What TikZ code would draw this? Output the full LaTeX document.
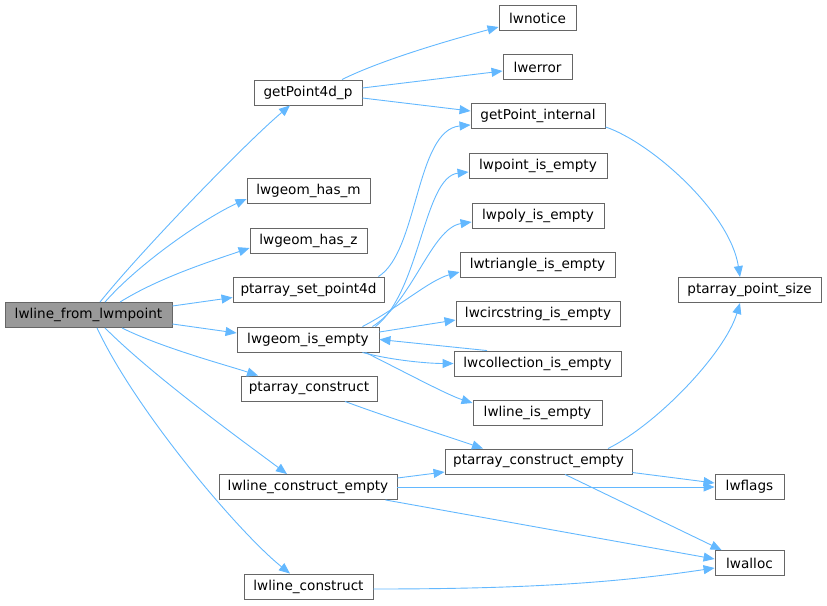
\documentclass[tikz,border=0pt]{standalone}
\usepackage{fontspec}
\setmainfont{DejaVu Sans}
\usetikzlibrary{arrows.meta}
\definecolor{callblue}{HTML}{63B8FF}
\definecolor{boxgray}{HTML}{666666}
\definecolor{rootgray}{HTML}{999999}
\tikzset{
  fn/.style = {rectangle, draw=boxgray, fill=white, line width=0.9pt,
    minimum height=25pt, minimum width=#1, inner sep=0pt,
    font=\fontsize{13.6}{15}\selectfont},% one function box
  fnroot/.style = {fn=#1, fill=rootgray},% the function drawn for
  call/.style = {draw=callblue, line width=0.9pt,
    -{Triangle[length=11pt,width=9pt]}}% one call
}

\begin{document}
\begin{tikzpicture}[x=1pt, y=-1pt]
  \useasboundingbox (0,0) rectangle (827,605);

  % caller
  \node[fnroot=167pt] (from) at (88.5,315) {lwline\_from\_lwmpoint};

  % second column
  \node[fn=108pt] (getpt4d) at (308,92.5) {getPoint4d\_p};
  \node[fn=123pt] (hasm) at (308.5,191) {lwgeom\_has\_m};
  \node[fn=117pt] (hasz) at (308.5,240.5) {lwgeom\_has\_z};
  \node[fn=151pt] (setpt4d) at (308.5,289.5) {ptarray\_set\_point4d};
  \node[fn=142pt] (geomempty) at (308,339.5) {lwgeom\_is\_empty};
  \node[fn=136pt] (pacons) at (309,388.5) {ptarray\_construct};
  \node[fn=178pt] (lconsempty) at (308,487) {lwline\_construct\_empty};
  \node[fn=129pt] (lcons) at (308.5,586.5) {lwline\_construct};

  % third column
  \node[fn=77pt] (notice) at (537.5,18) {lwnotice};
  \node[fn=69pt] (error) at (537.5,67) {lwerror};
  \node[fn=134pt] (getptint) at (538,116) {getPoint\_internal};
  \node[fn=138pt] (ptempty) at (538,166) {lwpoint\_is\_empty};
  \node[fn=132pt] (polyempty) at (538,215.5) {lwpoly\_is\_empty};
  \node[fn=155pt] (trempty) at (537.5,264.5) {lwtriangle\_is\_empty};
  \node[fn=164pt] (circempty) at (538,314) {lwcircstring\_is\_empty};
  \node[fn=167pt] (collempty) at (537.5,363.5) {lwcollection\_is\_empty};
  \node[fn=129pt] (lineempty) at (537.5,412.5) {lwline\_is\_empty};
  \node[fn=187pt] (pacempty) at (538.5,461.5) {ptarray\_construct\_empty};

  % last column
  \node[fn=143pt] (ptsize) at (749.5,290) {ptarray\_point\_size};
  \node[fn=69pt] (flags) at (749.5,487) {lwflags};
  \node[fn=69pt] (alloc) at (749.5,563) {lwalloc};

  % calls of lwline_from_lwmpoint
  \draw[call] ([xshift=11.5pt]from.north) .. controls +(40,-50) and +(-45,38) .. ([xshift=-18pt]getpt4d.south);
  \draw[call] ([xshift=16.5pt]from.north) .. controls +(35,-40) and +(-40,18) .. ([yshift=-8pt]hasm.west);
  \draw[call] ([xshift=31.5pt]from.north) .. controls +(40,-25) and +(-35,12) .. ([yshift=-7.5pt]hasz.west);
  \draw[call] ([yshift=9pt]from.east) -- ([yshift=-8pt]setpt4d.west);
  \draw[call] ([yshift=-9pt]from.east) -- ([yshift=6.5pt]geomempty.west);
  \draw[call] ([xshift=33.5pt]from.south) .. controls +(40,20) and +(-30,-10) .. ([xshift=-51pt]pacons.north);
  \draw[call] ([xshift=16.5pt]from.south) .. controls +(50,50) and +(-40,-30) .. ([xshift=-21pt]lconsempty.north);
  \draw[call] ([xshift=8.5pt]from.south) .. controls +(40,85) and +(-50,-40) .. ([xshift=-18.5pt]lcons.north);

  % getPoint4d_p
  \draw[call] ([xshift=34pt]getpt4d.north) .. controls +(40,-20) and +(-45,12) .. ([yshift=-9pt]notice.west);
  \draw[call] ([yshift=4.5pt]getpt4d.east) -- ([yshift=-4pt]error.west);
  \draw[call] ([yshift=-5.5pt]getpt4d.east) -- ([yshift=5pt]getptint.west);
  \draw[call] ([yshift=2pt]getptint.south east) .. controls +(45,15) and +(-10,-65) .. ([xshift=-9.5pt]ptsize.north);
  \draw[call] ([xshift=-6pt]setpt4d.north east) .. controls +(40,-25) and +(-55,5) .. ([yshift=4pt]getptint.south west);

  % lwgeom_is_empty
  \draw[call] ([xshift=-4pt]geomempty.north east) .. controls +(45,-35) and +(-45,5) .. ([yshift=-6pt]ptempty.west);
  \draw[call] ([xshift=-7pt]geomempty.north east) .. controls +(40,-25) and +(-40,6) .. ([yshift=-6.5pt]polyempty.west);
  \draw[call] ([xshift=-17pt]geomempty.north east) .. controls +(35,-18) and +(-30,8) .. ([yshift=-7.5pt]trempty.west);
  \draw[call] ([yshift=7.5pt]geomempty.east) -- ([yshift=-6pt]circempty.west);
  \draw[call] ([xshift=-50.5pt]collempty.north) -- (geomempty.east);
  \draw[call] ([xshift=-17pt]geomempty.south east) .. controls +(30,8) and +(-25,0) .. (collempty.west);
  \draw[call] ([xshift=-14pt]geomempty.south east) .. controls +(40,20) and +(-25,-8) .. ([yshift=9.5pt]lineempty.west);

  % ptarray construction
  \draw[call] ([xshift=36pt]pacons.south) .. controls +(40,15) and +(-35,-12) .. ([xshift=-55.5pt]pacempty.north);
  \draw[call] ([xshift=69.5pt]pacempty.north) .. controls +(50,-25) and +(-15,50) .. ([xshift=-9.5pt]ptsize.south);
  \draw[call] ([yshift=-11pt]pacempty.east) -- ([yshift=4pt]flags.west);
  \draw[call] ([xshift=26.5pt]pacempty.south) -- ([xshift=7pt]alloc.north west);

  % lwline constructors
  \draw[call] ([yshift=9pt]lconsempty.east) -- ([yshift=-10.5pt]pacempty.west);
  \draw[call] (lconsempty.east) -- (flags.west);
  \draw[call] ([xshift=-12pt]lconsempty.south east) -- ([yshift=4pt]alloc.west);
  \draw[call] ([yshift=-2.5pt]lcons.east) .. controls +(150,0) and +(-100,15) .. ([yshift=-5pt]alloc.west);
\end{tikzpicture}
\end{document}
